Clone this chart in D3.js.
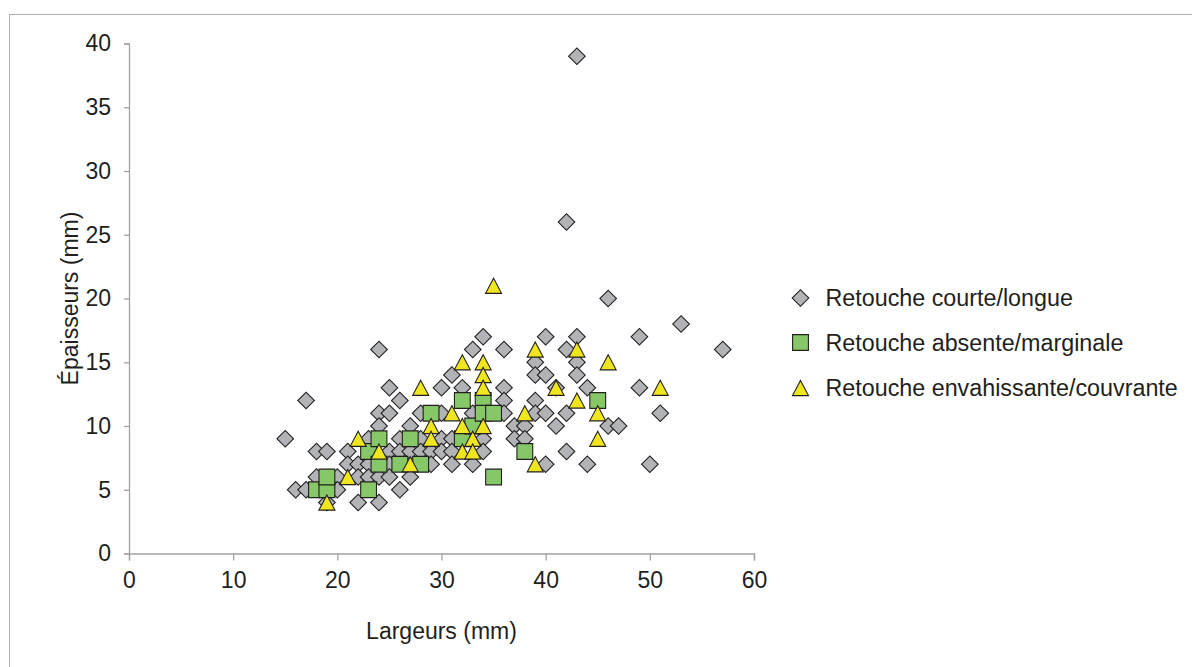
<!DOCTYPE html>
<html><head><meta charset="utf-8">
<script src="https://cdn.jsdelivr.net/npm/d3@7"></script>
<style>
html,body{margin:0;padding:0;background:#fff;}
text{font-family:"Liberation Sans",Arial,sans-serif;fill:#231f20;}
</style></head>
<body><svg id="chart" width="1192" height="667"></svg>
<script>
// ---- data ----
const seriesNames = ["Retouche courte/longue","Retouche absente/marginale","Retouche envahissante/couvrante"];
const xTicks = [0,10,20,30,40,50,60];
const yTicks = [0,5,10,15,20,25,30,35,40];
const courteLongue = [
 [15,9],[16,5],[17,5],[17,12],[18,8],[18,6],[19,8],[19,4],[20,6],[20,5],
 [21,8],[21,7],[22,7],[22,6],[22,4],[23,9],[23,7],[23,6],[24,16],[24,11],[24,10],[24,6],[24,4],
 [25,13],[25,11],[25,8],[25,7],[25,6],[26,12],[26,9],[26,8],[26,5],[27,10],[27,8],[27,6],
 [28,11],[28,9],[28,8],[29,8],[29,7],[30,13],[30,11],[30,9],[30,8],[31,14],[31,9],[31,8],[31,7],
 [32,13],[33,16],[33,11],[33,7],[34,17],[34,9],[34,8],[36,16],[36,13],[36,12],[36,11],[37,10],[37,9],
 [38,10],[38,9],[39,15],[39,14],[39,12],[39,11],[40,17],[40,14],[40,11],[40,7],[41,13],[41,10],
 [42,26],[42,16],[42,11],[42,8],[43,39],[43,17],[43,15],[43,14],[44,13],[44,7],[46,20],[46,10],[47,10],
 [49,17],[49,13],[50,7],[51,11],[53,18],[57,16]
];
const absenteMarginale = [
 [18,5],[19,5],[19,6],[23,8],[23,5],[24,9],[24,7],[26,7],[27,9],[28,7],[29,11],[32,12],[32,9],
 [33,10],[34,12],[34,11],[35,11],[35,6],[38,8],[45,12]
];
const envahissanteCouvrante = [
 [19,4],[21,6],[22,9],[24,8],[27,7],[28,13],[29,10],[29,9],[31,11],[32,15],[32,10],[32,8],[33,9],[33,8],
 [34,15],[34,14],[34,13],[34,10],[35,21],[38,11],[39,16],[39,7],[41,13],[43,16],[43,12],[45,11],[45,9],
 [46,15],[51,13]
];

// ---- layout ----
const svg = d3.select("#chart");
const L = 129, R = 754, T = 43.5, B = 553.5;
const x = d3.scaleLinear().domain([0,60]).range([L,R]);
const y = d3.scaleLinear().domain([0,40]).range([B,T]);
const axisColor = "#a3a3a3";
const ink = "#231f20";

// outer frame
svg.append("rect").attr("x",9.5).attr("y",14.5).attr("width",1200).attr("height",700)
  .attr("fill","none").attr("stroke","#b0b0b0").attr("stroke-width",1);

// axes
const gx = svg.append("g").attr("transform",`translate(0,${B})`)
  .call(d3.axisBottom(x).tickValues(xTicks).tickSize(7).tickPadding(11));
const gy = svg.append("g").attr("transform",`translate(${L},0)`)
  .call(d3.axisLeft(y).tickValues(yTicks).tickSize(5).tickPadding(13));
[gx,gy].forEach(g=>{
  g.select(".domain").attr("stroke",axisColor).attr("stroke-width",1.3);
  g.selectAll(".tick line").attr("stroke",axisColor).attr("stroke-width",1.3);
  g.selectAll(".tick text").attr("font-size",23).attr("fill",ink)
   .style("font-family",'"Liberation Sans",Arial,sans-serif');
});
gx.selectAll(".tick text").attr("dy","0.71em");

// axis titles
svg.append("text").attr("x",(L+R)/2).attr("y",639).attr("text-anchor","middle")
  .attr("font-size",23).text("Largeurs (mm)");
svg.append("text").attr("transform",`translate(78,${(T+B)/2}) rotate(-90)`)
  .attr("text-anchor","middle").attr("font-size",23).text("Épaisseurs (mm)");

// symbols
const triType = {draw(ctx,size){const w=Math.sqrt(size), h=w*0.95; ctx.moveTo(0,-h/2); ctx.lineTo(w/2,h/2); ctx.lineTo(-w/2,h/2); ctx.closePath();}};
const styles = [
  {data:courteLongue, sym:d3.symbol().type(d3.symbolSquare).size(138), rot:45, fill:"#b1b3b6"},
  {data:absenteMarginale, sym:d3.symbol().type(d3.symbolSquare).size(250), rot:0, fill:"#86c867"},
  {data:envahissanteCouvrante, sym:d3.symbol().type(triType).size(256), rot:0, fill:"#efe620"}
];
styles.forEach(s=>{
  svg.append("g").selectAll("path").data(s.data).join("path")
    .attr("d",s.sym())
    .attr("transform",d=>`translate(${x(d[0])},${y(d[1])}) rotate(${s.rot})`)
    .attr("fill",s.fill).attr("stroke",ink).attr("stroke-width",1.1);
});

// legend
const legY = [298, 342.5, 388];
styles.forEach((s,i)=>{
  const g = svg.append("g").attr("transform",`translate(800.5,${legY[i]})`);
  g.append("path").attr("d",s.sym()).attr("transform",`rotate(${s.rot})`)
    .attr("fill",s.fill).attr("stroke",ink).attr("stroke-width",1.1);
  g.append("text").attr("x",25).attr("y",0).attr("dy","0.35em").attr("font-size",23.3).text(seriesNames[i]);
});
</script></body></html>
